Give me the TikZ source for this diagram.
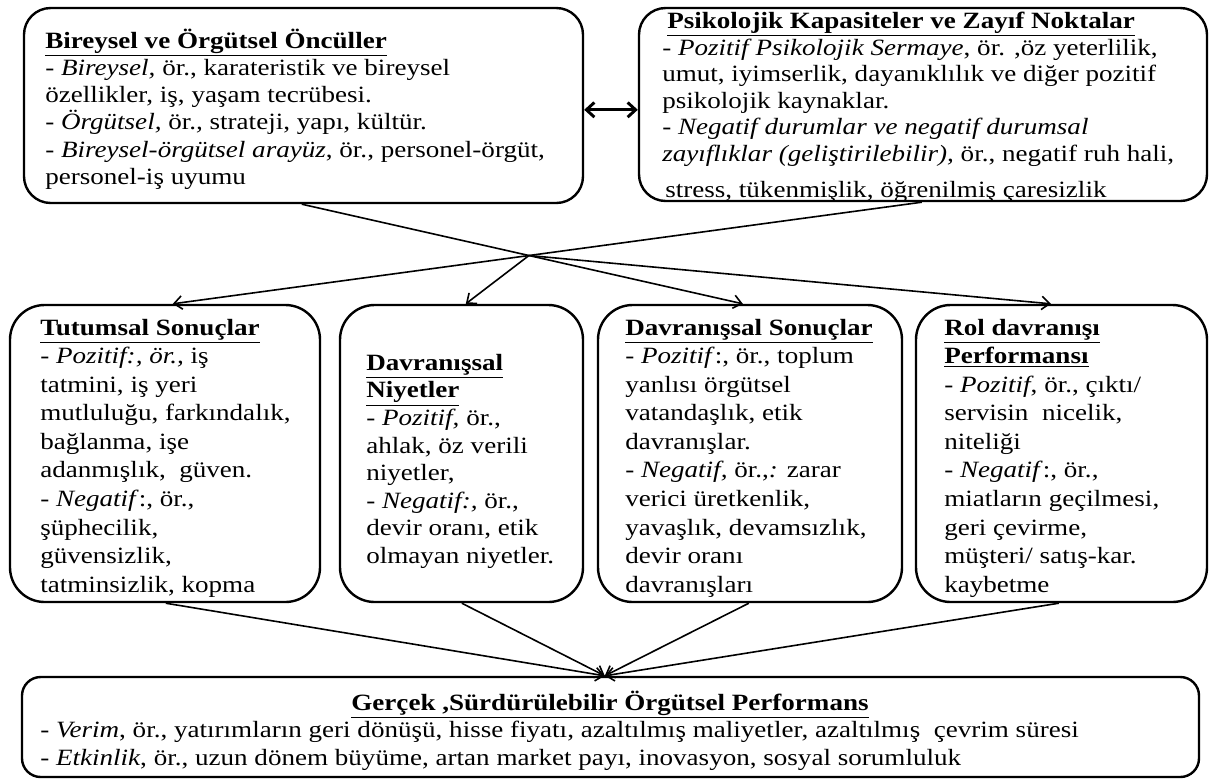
\documentclass[tikz,border=0pt]{standalone}
\usepackage{fontspec}
\setmainfont{Liberation Serif}[FakeStretch=1.16]
\usetikzlibrary{arrows.meta,calc,fit}

% strut that fixes the height of the first line of a text block
\newcommand{\firstline}{\rule{0pt}{18pt}}
\newcommand{\hd}[1]{\underline{\textbf{#1}}}

\begin{document}
\begin{tikzpicture}[x=0.75pt,y=-0.75pt,
  box/.style={draw, line width=1.8pt, inner sep=0pt},
  txt/.style={anchor=north west, inner sep=0pt, align=left},
  upper/.style={font=\fontsize{17.5}{20.4}\selectfont},
  psy/.style={font=\fontsize{17.5}{19.9}\selectfont},
  lower/.style={font=\fontsize{17.5}{21.4}\selectfont},
  link/.style={line width=1.2pt, -{Straight Barb[length=6pt,width=10pt]}},
  both/.style={line width=2.2pt, {Straight Barb[length=6pt,width=11pt]}-{Straight Barb[length=6pt,width=11pt]}}
]
\useasboundingbox (0,0) rectangle (1210,779);

% frames
\node[box, rounded corners=20pt, fit={(24,8) (583,203)}] (A) {};
\node[box, rounded corners=20pt, fit={(639,8) (1207,201)}] (B) {};
\node[box, rounded corners=26pt, fit={(10,305) (320,602)}] (Tut) {};
\node[box, rounded corners=26pt, fit={(340,305) (583,602)}] (Niy) {};
\node[box, rounded corners=26pt, fit={(598,305) (902,602)}] (DS) {};
\node[box, rounded corners=26pt, fit={(916,305) (1207,602)}] (Rol) {};
\node[box, rounded corners=14pt, fit={(22,677) (1199,777)}] (G) {};

% texts
\node[txt, upper] (At) at (45,24) {\firstline\hd{Bireysel ve Örgütsel Öncüller}\\
- \textit{Bireysel,} ör., karateristik ve bireysel\\
özellikler, iş, yaşam tecrübesi.\\
- \textit{Örgütsel,} ör.\textit{,} strateji, yapı, kültür.\\
- \textit{Bireysel-örgütsel arayüz}, ör., personel-örgüt,\\
personel-iş uyumu};

\node[txt, psy, anchor=base west] (Bt) at (667,28) {\hd{Psikolojik Kapasiteler ve Zayıf Noktalar}};
\node[txt, psy] (Bb) at (662,31) {\firstline- \textit{Pozitif Psikolojik Sermaye}, ör. ,öz yeterlilik,\\
umut, iyimserlik, dayanıklılık ve diğer pozitif\\
psikolojik kaynaklar.\\
- \textit{Negatif durumlar ve negatif durumsal}\\
\textit{zayıflıklar (geliştirilebilir),} ör., negatif ruh hali,};
\node[txt, psy, anchor=base west] (Bl) at (665,197) {stress, tükenmişlik, öğrenilmiş çaresizlik};

\node[txt, lower] (Tutt) at (40,311) {\firstline\hd{Tutumsal Sonuçlar}\\
- \textit{Pozitif:, ör.,} iş\\
tatmini, iş yeri\\
mutluluğu, farkındalık,\\
bağlanma, işe\\
adanmışlık,\ \ güven.\\
- \textit{Negatif}:, ör.,\\
şüphecilik,\\
güvensizlik,\\
tatminsizlik, kopma};

\node[txt, font=\fontsize{17.5}{20.7}\selectfont] (Niyt) at (366,346) {\firstline\hd{Davranışsal}\\
\hd{Niyetler}\\
- \textit{Pozitif,} ör.,\\
ahlak, öz verili\\
niyetler,\\
- \textit{Negatif:,} ör.,\\
devir oranı, etik\\
olmayan niyetler.};

\node[txt, lower] (DSt) at (625,311) {\firstline\hd{Davranışsal Sonuçlar}\\
- \textit{Pozitif}:, ör., toplum\\
yanlısı örgütsel\\
vatandaşlık, etik\\
davranışlar.\\
- \textit{Negatif,} ör.,\textit{:} zarar\\
verici üretkenlik,\\
yavaşlık, devamsızlık,\\
devir oranı\\
davranışları};

\node[txt, lower] (Rolt) at (944,311) {\firstline\hd{Rol davranışı}\\
\hd{Performansı}\\
- \textit{Pozitif}, ör., çıktı/\\
servisin\ \ nicelik,\\
niteliği\\
- \textit{Negatif}:, ör.,\\
miatların geçilmesi,\\
geri çevirme,\\
müşteri/ satış-kar.\\
kaybetme};

\node[upper, inner sep=0pt, anchor=base] (Gt) at (610,710) {\hd{Gerçek ,Sürdürülebilir Örgütsel Performans}};
\node[txt, font=\fontsize{17.5}{21}\selectfont] (Gb) at (40,713) {\firstline- \textit{Verim}, ör., yatırımların geri dönüşü, hisse fiyatı, azaltılmış maliyetler, azaltılmış\ \ çevrim süresi\\
- \textit{Etkinlik}, ör., uzun dönem büyüme, artan market payı, inovasyon, sosyal sorumluluk};

% connector ends on the frames
\coordinate (a1) at ($(A.south west)+(279,0)$);
\coordinate (b1) at ($(B.south west)+(284,0)$);
\coordinate (t1) at ($(Tut.north west)+(164,0)$);
\coordinate (n1) at ($(Niy.north west)+(127,0)$);
\coordinate (d1) at ($(DS.north west)+(146,0)$);
\coordinate (r1) at ($(Rol.north west)+(136,0)$);
\coordinate (X) at (intersection of a1--d1 and b1--t1);
\coordinate (tb) at ($(Tut.south west)+(157,0)$);
\coordinate (nb) at ($(Niy.south west)+(123,0)$);
\coordinate (db) at ($(DS.south west)+(152,0)$);
\coordinate (rb) at ($(Rol.south west)+(144,0)$);
\coordinate (g1) at ($(G.north west)+(584,0)$);

% two-way link between the upper frames
\draw[both] ($(A.north east)+(0,103)$) -- ($(B.north west)+(0,103)$);

% crossing links to the middle row
\draw[link] (a1) -- (X) -- (d1);
\draw[link] (b1) -- (X) -- (t1);
\draw[link] (X) -- (n1);
\draw[link] (X) -- (r1);

% links into the bottom frame
\draw[link] (tb) -- (g1);
\draw[link] (nb) -- (g1);
\draw[link] (db) -- (g1);
\draw[link] (rb) -- (g1);
\end{tikzpicture}
\end{document}
